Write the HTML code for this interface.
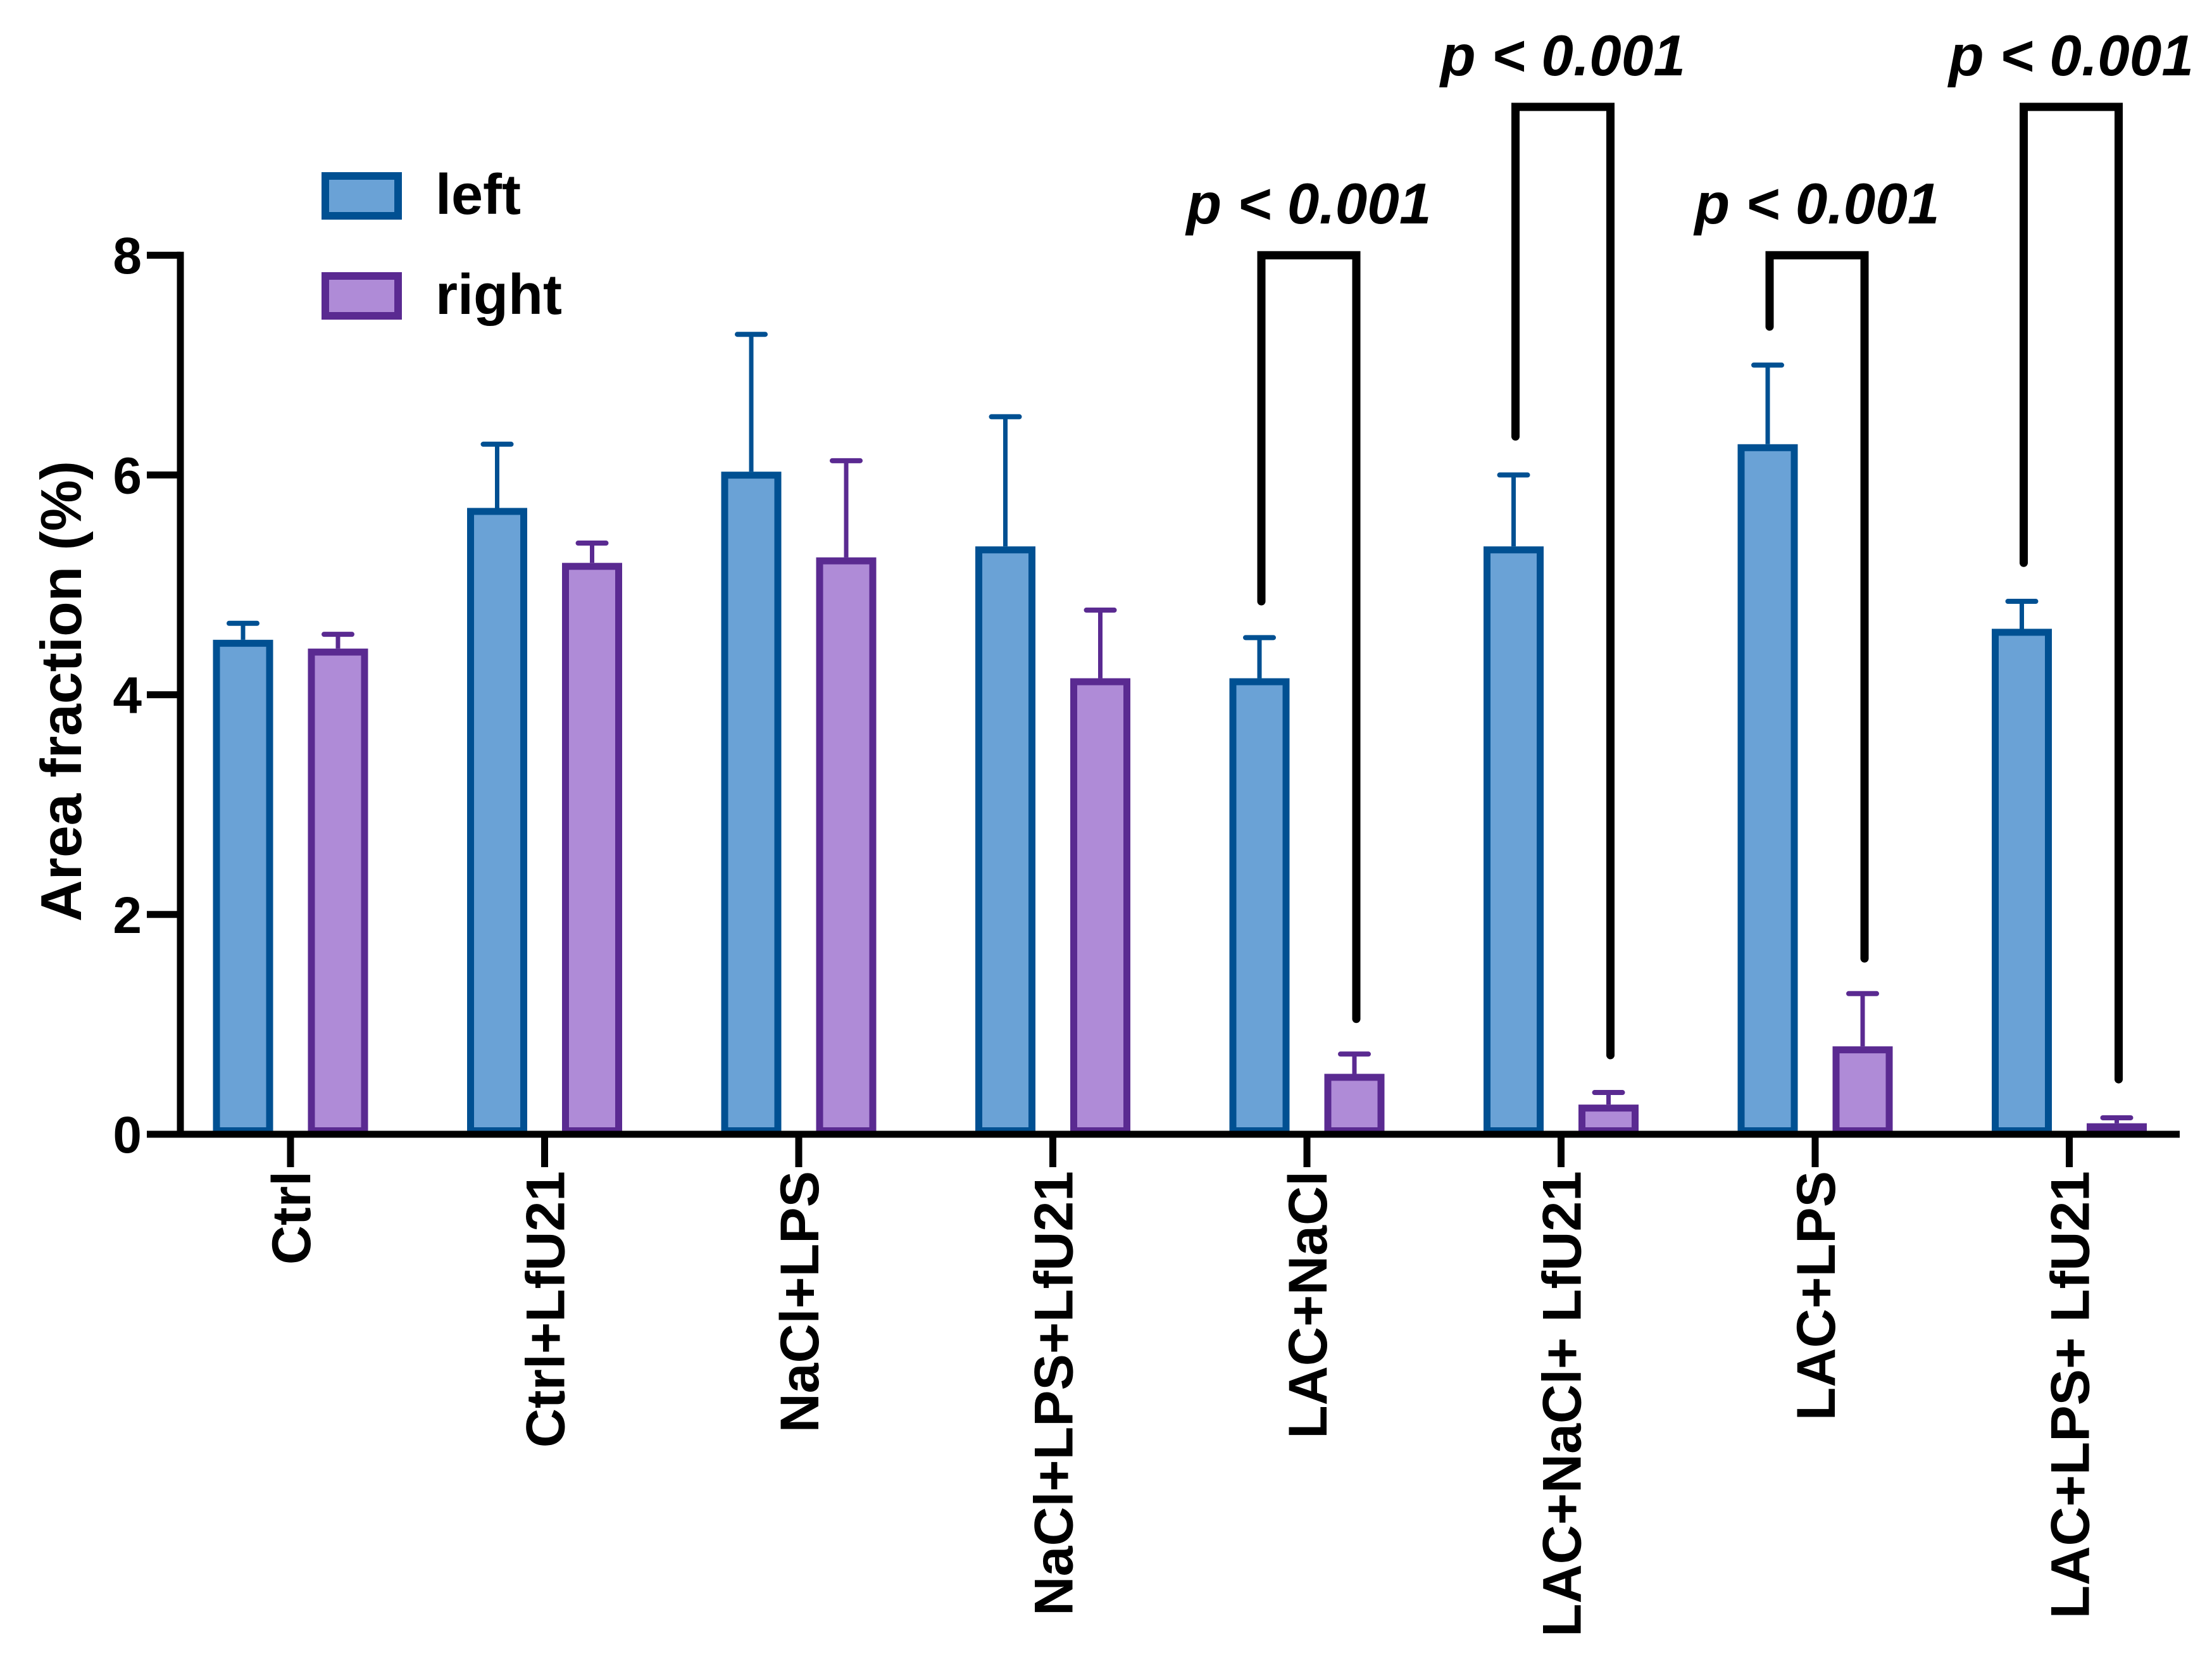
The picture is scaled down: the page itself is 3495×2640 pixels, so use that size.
<!DOCTYPE html>
<html><head><meta charset="utf-8"><style>
html,body{margin:0;padding:0;background:#fff;}
svg{display:block;font-family:"Liberation Sans",Arial,sans-serif;font-weight:bold;}
</style></head><body>
<svg id="chart" width="3495" height="2640" viewBox="0 0 3495 2640" xmlns="http://www.w3.org/2000/svg">
<rect width="3495" height="2640" fill="#fff"/>
<g id="plot"></g>
</svg>
<script>
const categories = ["Ctrl","Ctrl+LfU21","NaCl+LPS","NaCl+LPS+LfU21","LAC+NaCl","LAC+NaCl+ LfU21","LAC+LPS","LAC+LPS+ LfU21"];
const leftValues = [4.5,5.7,6.03,5.35,4.15,5.35,6.28,4.6];
const leftErrTop = [4.65,6.28,7.28,6.53,4.52,6.0,7.0,4.85];
const rightValues = [4.42,5.2,5.25,4.15,0.55,0.27,0.8,0.1];
const rightErrTop = [4.55,5.38,6.13,4.77,0.73,0.38,1.28,0.15];
const yTicks = [0,2,4,6,8];
const sigGroups = [4,5,6,7];
const sigLabels = ["p < 0.001","p < 0.001","p < 0.001","p < 0.001"];
const sigTopValues = [8,9.35,8,9.35];
const sigLeftBottom = [4.85,6.35,7.35,5.2];
const sigRightBottom = [1.05,0.72,1.6,0.5];

const NS="http://www.w3.org/2000/svg";
const g=document.getElementById('plot');
const x0=285, xEnd=3444, y0=1792, pxPerUnit=173.6, groupStart=459, groupStep=401.5;
const yS=v=>y0-v*pxPerUnit;
const xG=i=>groupStart+i*groupStep;
function mk(tag,attrs){const e=document.createElementNS(NS,tag);for(const k in attrs)e.setAttribute(k,attrs[k]);g.appendChild(e);return e;}

yTicks.forEach(t=>{
  const tk=mk('line',{x1:232,x2:x0,y1:yS(t),y2:yS(t),stroke:'#000','stroke-width':11});
  
  
  const tx=mk('text',{x:224,y:yS(t)+29,'text-anchor':'end','font-size':82});
  tx.textContent=t;
  
  
});

const bw=95, off=75;
function bar(cx,v,top,fill,stroke,name){
  const er=mk('line',{x1:cx,x2:cx,y1:yS(v),y2:yS(top),stroke:stroke,'stroke-width':7});
  
  
  const cap=mk('line',{x1:cx-22,x2:cx+22,y1:yS(top),y2:yS(top),stroke:stroke,'stroke-width':8,'stroke-linecap':'round'});
  
  
  const h=v*pxPerUnit;
  const r=mk('rect',{x:cx-bw/2+5.5,y:yS(v)+5.5,width:bw-11,height:Math.max(h-11,0.5),fill:fill,stroke:stroke,'stroke-width':11});
  
  
}
categories.forEach((c,i)=>{
  bar(xG(i)-off,leftValues[i],leftErrTop[i],'#6aa2d6','#005092','left');
  bar(xG(i)+off,rightValues[i],rightErrTop[i],'#af8bd7','#5a2a91','right');
  const tk=mk('line',{x1:xG(i),x2:xG(i),y1:y0,y2:y0+52,stroke:'#000','stroke-width':11});
  
  
  const tx=mk('text',{x:0,y:0,'text-anchor':'end','font-size':86,transform:`translate(${xG(i)+31},1850) rotate(-90)`});
  tx.textContent=c;
  
  
});

const ya=mk('line',{x1:x0,x2:x0,y1:yS(8)-5.5,y2:y0+5.5,stroke:'#000','stroke-width':11});


const xa=mk('line',{x1:x0-5.5,x2:xEnd,y1:y0,y2:y0,stroke:'#000','stroke-width':11});



sigGroups.forEach((gi,k)=>{
  const xl=xG(gi)-off+3, xr=xG(gi)+off+3, yt=yS(sigTopValues[k]);
  const p=mk('path',{d:`M${xl},${yS(sigLeftBottom[k])} L${xl},${yt} L${xr},${yt} L${xr},${yS(sigRightBottom[k])}`,fill:'none',stroke:'#000','stroke-width':13,'stroke-linecap':'round'});
  
  
  const t=mk('text',{x:(xl+xr)/2,y:yt-50,'text-anchor':'middle','font-size':91,'font-style':'italic'});
  t.textContent=sigLabels[k];
  
  
});

const yt=mk('text',{x:0,y:0,'text-anchor':'middle','font-size':91,transform:'translate(128,1092) rotate(-90)'});
yt.textContent='Area fraction (%)';



[['left','#6aa2d6','#005092',272],['right','#af8bd7','#5a2a91',430]].forEach(([lab,f,s,y])=>{
  const r=mk('rect',{x:514,y:y+6,width:115,height:63,fill:f,stroke:s,'stroke-width':12});
  
  
  const t=mk('text',{x:688,y:y+66,'font-size':90});
  t.textContent=lab;
  
  
});
</script>
</body></html>
